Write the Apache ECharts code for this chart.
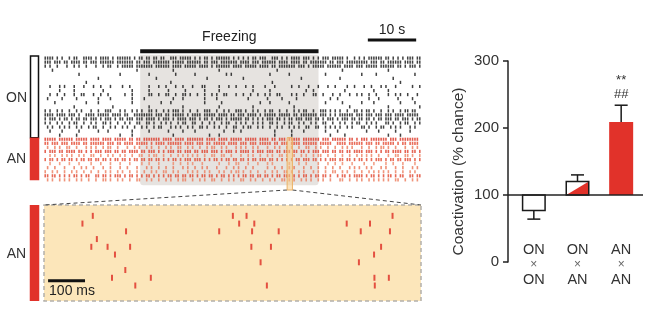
<!DOCTYPE html>
<html>
<head>
<meta charset="utf-8">
<script src="https://cdn.jsdelivr.net/npm/echarts@6/dist/echarts.min.js"></script>
<style>
  html, body { margin: 0; padding: 0; background: #fff; }
  #c { width: 654px; height: 333px; }
</style>
</head>
<body>
<div id="c"></div>
<script>
// ---- Raster (top): one string per unit, each character is a 0.5 s bin, '|' = spike ----
const BIN_S = 0.5;
const onRows = [
  "||||.|.|.. |.||..|||| .|.||||.|. ||||||.|.| |.||.||.|| ..|||.|||| |.|.|.||.| .||||||.|. |.|.|.||.| ||..|||.|. |.||||.||| .|.|.|||.| ||||.|..|. |.|.|||||| .||.|.|.|. |||.||.|.|",
  "|||.|||.|| .||||.||.| ||.||||||. |||||||.|| .|||.||||| ||.|||||.| |||||.||.| ||.||||||| .||||.|||. ||||||.||| |.||||.||. |||||||.|| .|||.||||| ||||.|||.| |.||||||.| |||.||||||",
  "|.|..|...| ..|.|..|.. .|..|.||.. |.|||||.|| |||||.|||| ||.||||.|| |||.||||.| .||||||.|| ||.|||||.| |||.||.||| ||||.|||.| .|||||.||| |||.||||.| ||.|||||.| |||||.||.| .|||.||||.",
  "...|...... .......... .......... ........|. .......... ...|...... .......... ..|....... .......... ......|... .......... .......... ...|...... .......... ..|....... ..........",
  ".......... ....|..... .......... .|........ ...|...... ....|..... ..|....... .....|.|.. .......... ...|...... .|........ ......|... .......... .|.....|.. .......... ...|......",
  ".......... .......... ..|....... .......... ......|... .......... .......|.. .......... ..|....... .......... ......|... .......... ..|....... .......... ....|..... ..........",
  ".......... .......|.. .......... .......... .......... ..|....... .......... .......... .......... ....|..... .......... .......... .......... .......... .......|.. ..........",
  "..|...|.|. ..|...|... |..|...|.. ..|..|.... ...|...|.. |...|..|.. .|...||... ..|...|..| ...|..|... .|...|.... ..|..|...| ...|...|.. |....|..|. ..|..|...| .|...|.... ..|..|..|.",
  "......|... ..|....... ....|..... ......|... ...|...... .|......|. ......|... ..|....... ......|... ...|...... ........|. .|........ ....|..... ......|... ..|....... ........|.",
  "..|..|..|. ..|..||... |..|..|... ...|..|... ...||..|.. ||..|..||. |..|..|..| .|..||...| ..|..|..|. .|.|..||.. ..|.|..|.. .||..|...| ..|...|..| .|..|..|.. ..|..|.|.. |...|..|..",
  ".|.....|.. ...|...... ..|....|.. ......|... .|........ ...|...|.. ......|... .|........ ....|..... ..|.....|. ....|..... ........|. .|........ ....|...|. ......|... ..|.......",
  "....|..... .......|.. ..|....... ......|... ........|. ..|....... ......|... ...|...... .........| ...|...... .|........ ......|... ...|...... .|....|... .......|.. ...|......",
  ".......... ..|....... ........|. .......... ...|...... .......|.. .......... ..|....... ......|... .......... ...|...... .......... ......|... .......... ..|....... .....|....",
  "|.|..|.|.. |..|.|...| ..|..|||.. .|.|..|.|. |..||.|..| .|.|||.|.. |..|..|||. .|..|.|..| ||.|..|.|. .|.||..|.. |..|.|.||. .|..|||.|. |.|..|..|| .|.||.|..| ..|.|..|.| |.||..|.|.",
  "||||.||||. |||.|..||| |.|||||.|| ||.||..||| |||||.|||. ||.|||||.| .||||.|||| |.||||.||. |||.||||.| .|||||.||| ||.||.|||| |||.|||.|. |.||||||.| ||.|||.||| .|||.||||. |||||.||.|",
  "|.|||.|.|| .|.||.||.| ||.|.|||.| .||.|||.|| |.||||.|.| ||.|.||||. |||.|.||.| .|||.|.||| ||.||.|.|. |.|||.||.| .||.|||.|| |.||.|.||| .|.|||.||. ||.||.|.|| .|||.||.|| |.|.|||.||",
  "|.|..|.|.. |.||..|..| .|..||.|.. |..|.|..|| ..||.|..|. |.|..|.||. .||..|..|. |..|.||..| .|.|..|.|. |..||.|..| .||..|.|.. |.|..||..| ..|.|..|.| |..|.|.|.. .||.|..|.| |..|.||..|",
  ".|.|..|.|. |..|.|..|. ||..|..|.| ..|.|..|.. |.|..|.||. ..|.|.|..| .|..||.|.. |.|..|..|| ..|.||..|. |..|..|.|. .|.|.|..|| ..||..|.|. |.|..|.|.. .||.|..|.| |..|.|.|.. .|.|..||.|",
  "..|....|.. ....|..... ..|...|... ......|... ...|...... .|.....|.. ..|....... ....|...|. .|........ .....|.... ..|....|.. ......|... .|........ ...|....|. .....|.... .|........",
  "......|... ...|...... .......... .|....|... .......... ...|...... ........|. ..|....... .......... .....|.... ..|....... ........|. ....|..... .......... ..|....|.. .........."
];
const anRows = [
  "|||||.|||| ||.|||||.| |||.||||.| ||||.||.|| .|||||||.| |||.||||.| ||||||.||| |.||||.||| ||.|||||.| |||.||.||| .|||||.||| ||||.|||.| |||||.||.| .|||.||||| ||.|||.||| |||||.|.||",
  "||.|||.||| .||||.||.| |||||.|||. ||.||||.|| |||.|.|||| .||||||.|| ||.|||.||. |||||.|||| .|||.|||.| ||||.||.|| |.||||.||| |||.|||||. .||||.|||| ||.|||.||. |||||.|.|| .||||.||||",
  ".|..|.|..| |..|...|.| .|..|.||.. |...|..|.| ..|.|..|.. |.|..||..| .|..|..|.| |..|.|...| .|.|..|.|. ..|..|.|.. |.|..|..|| ..|.|..|.. |..|.|.|.. .|..|..|.| |.|..|...| ..|.|..|.|",
  "|.|||.||.| |||.||.|.| .|||.|||.| |.||.||||. ||.|||.|.| .|||.||.|| |.||.|||.| ||.|.|||.| .||||.|.|| |.|||.||.| ||.||.||.| .|||.|||.| |.||.||.|| ||.|||.|.| .||.||||.| |.||.|||.|",
  "..|.|..|.| .|..|.|..| |..|..|.|. .|.|..|..| |..|.||..| ..|..|.|.| .|.|..|..| |..||..|.. .|..|.|..| ..|.|..||. |..|..|.|. .|.||..|.. |..|..|..| .|.|.|..|. ..|..||..| |.|..|.|..",
  "|.||.|.||. ||.|.||.|| .||.||.|.| |.||.|.||. ||.||.||.| .|.||.|.|| |.|||.|.|. ||.|.||.|| .||.|.||.| ||.||.|.|. |.|.||.||| .||.|.|.|| |.||.||.|. ||.|.|.||| .|.||.||.| ||.|.||.||",
  "..|...|... |...|....| ...|...|.. .|...|.... |..|...|.. ...|..|..| .|...|.... ..|...|..| |...|...|. ..|.|..... .|...|..|. ...|...|.. |..|...|.. ..|...|... .|..|...|. ...|..|...",
  ".|..|...|. ..|..|.|.. |...|..|.. .|..|...|. ..|.|..|.. |..|...|.| ..|..|.|.. .|...|..|. |..|..|... ..|..|..|. .|.|...|.. |..|..|..| ..|...|.|. |..|.|...| .|...|..|. ..|.|...|.",
  "|..|.|..|. .|.|..|..| ..|..|.|.. |.|..|..|. .|..|.|..| |..|.|...| .|.|..|.|. ..|.|..|.| |.|..|..|. .|..|.|..| |.|..|.|.. .|.|..|..| |..|.|..|. .|..|.|.|. |.|..|..|. .|.|..|..|",
  "||.||.|.|. |.||.|.||. .||.||.|.| ||.|.||.|. |.||.|.|.| .||.||.||. ||.|.||.|| .|.||.|.|. |.||.||.|| .||.|.||.| ||.|.|.||. |.||.||.|. .|.||.|.|| ||.|.||.|. |.||.|.||. .||.||.|.|",
  ".|.|..|.|. |..|.|..|. .|..||.|.. |.|..|..|| ..|.|..|.. |.|..|.||. .|..|.|..| |..|..|.|. .||..|.|.. |..|.|..|| .|.|..|.|. |..|.|..|. ..||..|..| .|..|.|.|. |.|..||..| ..|.|..|.."
];
const freezingSpan = [19.9, 56.8];     // s
const expandedSpan = [50.3, 51.4];     // s, window shown below
const timeScaleBar = [67, 77];         // s
const timeScaleText = "10 s";
const freezingText = "Freezing";

// ---- Expanded 1 s window: [time in ms, unit index] ----
const windowSpikes = [
  [132, 1], [511, 1], [548, 1], [943, 1],
  [104, 2], [528, 2], [569, 2], [819, 2], [882, 2],
  [222, 3], [474, 3], [563, 3], [635, 3], [857, 3], [936, 3],
  [143, 4],
  [128, 5], [172, 5], [233, 5], [561, 5], [614, 5], [912, 5],
  [192, 6], [893, 6],
  [586, 7], [852, 7],
  [220, 8],
  [184, 9], [289, 9], [894, 9], [933, 9],
  [247, 10], [603, 10], [895, 10]
];
const windowScaleBar = [11, 111];      // ms
const windowScaleText = "100 ms";

// ---- Coactivation bars ----
const categories = ["ON×ON", "ON×AN", "AN×AN"];
const catTop = ["ON", "ON", "AN"];
const catBottom = ["ON", "AN", "AN"];
const coactMean = [77, 120, 209];
const coactErr = [13, 10, 25];
const yTicks = [0, 100, 200, 300];
const sigLines = ["**", "##"];
const yTitle = "Coactivation (% chance)";

const FONT = "Liberation Sans, Arial, Helvetica, sans-serif";
const RED = "#e1322a";
const anColors = ["#dc3424", "#e4472f", "#ec7656", "#df3e2a", "#ee8262", "#e2492f",
                  "#ef8a6a", "#eb7252", "#ed7d5c", "#e0442c", "#ec7858"];

const toPoints = (rows, offset) => {
  const pts = [];
  rows.forEach((s, r) => {
    s.replace(/ /g, "").split("").forEach((ch, i) => {
      if (ch === "|") pts.push([i * BIN_S + BIN_S / 2, r + offset]);
    });
  });
  return pts;
};
const onPts = toPoints(onRows, 0);
const anPts = toPoints(anRows, onRows.length);

const chart = echarts.init(document.getElementById("c"), null, { renderer: "canvas" });

const option = {
  animation: false,
  textStyle: { fontFamily: FONT },
  grid: [
    { left: 44, top: 54, width: 377, height: 136 },
    { left: 44, top: 205, width: 377, height: 96 },
    { left: 512, top: 61, width: 131, height: 201 }
  ],
  xAxis: [
    { gridIndex: 0, type: "value", min: 0, max: 78, show: false },
    { gridIndex: 1, type: "value", min: 0, max: 1020, show: false },
    {
      gridIndex: 2, type: "category", data: categories,
      axisLine: { show: false }, axisTick: { show: false },
      axisLabel: {
        margin: -20, interval: 0,
        formatter: (v, i) => "{a|" + catTop[i] + "}\n{b|×}\n{a|" + catBottom[i] + "}",
        rich: {
          a: { fontSize: 14.5, color: "#333", lineHeight: 15, fontFamily: FONT },
          b: { fontSize: 12, color: "#666", lineHeight: 15, fontFamily: FONT }
        }
      }
    }
  ],
  yAxis: [
    { gridIndex: 0, type: "value", min: -1, max: 32.5, inverse: true, show: false },
    { gridIndex: 1, type: "value", min: -0.4, max: 12, inverse: true, show: false },
    {
      gridIndex: 2, type: "value", min: yTicks[0], max: yTicks[yTicks.length - 1],
      interval: yTicks[1] - yTicks[0], offset: 4,
      axisLine: { show: true, lineStyle: { color: "#222", width: 1.5 } },
      axisTick: { show: true, length: 5, lineStyle: { color: "#222", width: 1.5 } },
      splitLine: { show: false },
      axisLabel: { fontSize: 15, color: "#333", margin: 9, fontFamily: FONT },
      name: yTitle, nameLocation: "middle", nameGap: 41,
      nameTextStyle: { fontSize: 15.5, color: "#333", fontFamily: FONT, padding: [0, 20, 0, 0] }
    }
  ],
  series: [
    // freezing epoch shading
    {
      type: "custom", xAxisIndex: 0, yAxisIndex: 0, z: 1, silent: true,
      data: [freezingSpan],
      renderItem: (p, api) => {
        const a = api.coord([api.value(0), -0.8]);
        const b = api.coord([api.value(1), 31.3]);
        return { type: "rect", shape: { x: a[0], y: a[1], width: b[0] - a[0], height: b[1] - a[1], r: [0, 0, 3, 3] },
                 style: { fill: "#e6e3e0" } };
      }
    },
    {
      type: "scatter", xAxisIndex: 0, yAxisIndex: 0, z: 2, silent: true,
      symbol: "rect", symbolSize: [1.5, 3.2], data: onPts,
      itemStyle: { color: "#111" }
    },
    {
      type: "scatter", xAxisIndex: 0, yAxisIndex: 0, z: 2, silent: true,
      symbol: "rect", symbolSize: [1.6, 3.2], data: anPts,
      itemStyle: { color: (p) => anColors[p.data[1] - onRows.length] }
    },
    // freezing bar + label, time scale bar + label
    {
      type: "custom", xAxisIndex: 0, yAxisIndex: 0, z: 3, silent: true,
      data: [[freezingSpan[0], freezingSpan[1], 0], [timeScaleBar[0], timeScaleBar[1], 1]],
      renderItem: (p, api) => {
        const a = api.coord([api.value(0), -1]);
        const b = api.coord([api.value(1), -1]);
        const isScale = api.value(2) === 1;
        const top = isScale ? 38.5 : 49.3;
        const h = isScale ? 3 : 4;
        const txt = isScale ? timeScaleText : freezingText;
        return {
          type: "group", children: [
            { type: "rect", shape: { x: a[0], y: top, width: b[0] - a[0], height: h }, style: { fill: "#111" } },
            { type: "text", x: (a[0] + b[0]) / 2, y: isScale ? 30 : 37,
              style: { text: txt, fill: "#222", font: "14px " + FONT, align: "center", verticalAlign: "middle" } }
          ]
        };
      }
    },
    // expanded-window marker
    {
      type: "custom", xAxisIndex: 0, yAxisIndex: 0, z: 10, silent: true,
      data: [expandedSpan],
      renderItem: (p, api) => {
        const a = api.coord([api.value(0), 19.6]);
        const b = api.coord([api.value(1), 32.5]);
        return { type: "rect", shape: { x: a[0], y: a[1], width: b[0] - a[0], height: b[1] - a[1] },
                 style: { fill: "rgba(248,208,140,0.55)", stroke: "#ecb266", lineWidth: 1 } };
      }
    },
    // expanded panel background
    {
      type: "custom", xAxisIndex: 1, yAxisIndex: 1, z: 1, silent: true,
      data: [[0, 1020]],
      renderItem: (p, api) => {
        const a = api.coord([api.value(0), -0.4]);
        const b = api.coord([api.value(1), 12]);
        return { type: "rect", shape: { x: a[0], y: a[1], width: b[0] - a[0], height: b[1] - a[1] },
                 style: { fill: "#fce6ba", stroke: "#b3b0ab", lineWidth: 1.5, lineDash: [4, 3] } };
      }
    },
    {
      type: "scatter", xAxisIndex: 1, yAxisIndex: 1, z: 3, silent: true,
      symbol: "rect", symbolSize: [2, 6], data: windowSpikes,
      itemStyle: { color: "#dd2b22" }
    },
    {
      type: "custom", xAxisIndex: 1, yAxisIndex: 1, z: 4, silent: true,
      data: [windowScaleBar],
      renderItem: (p, api) => {
        const a = api.coord([api.value(0), 9.4]);
        const b = api.coord([api.value(1), 9.4]);
        return {
          type: "group", children: [
            { type: "rect", shape: { x: a[0], y: a[1] - 1.5, width: b[0] - a[0], height: 3 }, style: { fill: "#111" } },
            { type: "text", x: a[0] + 1, y: a[1] + 10,
              style: { text: windowScaleText, fill: "#222", font: "14px " + FONT, align: "left", verticalAlign: "middle" } }
          ]
        };
      }
    },
    // coactivation bars with error bars
    {
      type: "custom", xAxisIndex: 2, yAxisIndex: 2, z: 3, silent: true,
      data: categories.map((c, i) => [i, coactMean[i], coactErr[i]]),
      renderItem: (p, api) => {
        const i = api.value(0), m = api.value(1), e = api.value(2);
        const base = api.coord([i, 100]);
        const top = api.coord([i, m]);
        const up = m >= 100;
        const tip = api.coord([i, up ? m + e : m - e]);
        const w = i === 2 ? 24 : 22.5;
        const x0 = base[0] - w / 2, x1 = base[0] + w / 2;
        const yT = Math.min(base[1], top[1]), yB = Math.max(base[1], top[1]);
        const ch = [];
        const ink = { stroke: "#1a1a1a", lineWidth: 1.5 };
        ch.push({ type: "line", shape: { x1: base[0], y1: top[1], x2: base[0], y2: tip[1] }, style: ink });
        ch.push({ type: "line", shape: { x1: base[0] - 6.5, y1: tip[1], x2: base[0] + 6.5, y2: tip[1] }, style: ink });
        if (i === 0) {
          ch.push({ type: "rect", shape: { x: x0, y: yT, width: w, height: yB - yT }, style: { fill: "#fff", stroke: "#1a1a1a", lineWidth: 1.5 } });
        } else if (i === 1) {
          ch.push({ type: "rect", shape: { x: x0, y: yT, width: w, height: yB - yT }, style: { fill: "#fff" } });
          ch.push({ type: "polygon", shape: { points: [[x0, yB], [x1, yT], [x1, yB]] }, style: { fill: RED } });
          ch.push({ type: "rect", shape: { x: x0, y: yT, width: w, height: yB - yT }, style: { fill: "none", stroke: "#1a1a1a", lineWidth: 1.5 } });
        } else {
          ch.push({ type: "rect", shape: { x: x0, y: yT, width: w, height: yB - yT }, style: { fill: RED } });
          sigLines.slice().reverse().forEach((t, k) => {
            ch.push({ type: "text", x: base[0], y: tip[1] - 11 - k * 14,
              style: { text: t, fill: "#333", font: "13px " + FONT, align: "center", verticalAlign: "middle" } });
          });
        }
        return { type: "group", children: ch };
      }
    }
  ]
};
chart.setOption(option);

// Side labels, unit-group bars, connector lines, bar-chart baseline
const px0 = (pt) => chart.convertToPixel({ gridIndex: 0 }, pt);
const px1 = (pt) => chart.convertToPixel({ gridIndex: 1 }, pt);
const onTop = px0([0, -0.5])[1];
const split = px0([0, onRows.length - 0.4])[1];
const anBot = px0([0, onRows.length + anRows.length - 1 + 0.1])[1];
const wTop = px1([0, -0.4])[1], wBot = px1([0, 12])[1];
const colL = px0([expandedSpan[0], 32.5]), colR = px0([expandedSpan[1], 32.5]);
const winL = px1([0, -0.4]), winR = px1([1020, -0.4]);
const baseY = chart.convertToPixel({ yAxisIndex: 2 }, 100);
const axisX = 508, gridRight = 643;
const lbl = (t, y) => ({ type: "text", x: 16.5, y: y,
  style: { text: t, fill: "#333", font: "14px " + FONT, align: "center", verticalAlign: "middle" } });

chart.setOption({
  graphic: [
    { type: "rect", z: 5, shape: { x: 30.5, y: onTop, width: 8, height: split - onTop }, style: { fill: "#fff", stroke: "#111", lineWidth: 1.5 } },
    { type: "rect", z: 5, shape: { x: 29.75, y: split, width: 9.5, height: anBot - split }, style: { fill: RED } },
    { type: "rect", z: 5, shape: { x: 29.75, y: wTop, width: 9.5, height: wBot - wTop }, style: { fill: RED } },
    lbl("ON", (onTop + split) / 2 + 1),
    lbl("AN", (split + anBot) / 2),
    lbl("AN", (wTop + wBot) / 2 + 1),
    { type: "line", z: 5, shape: { x1: colL[0], y1: colL[1], x2: winL[0], y2: winL[1] }, style: { stroke: "#444", lineWidth: 1, lineDash: [4, 3] } },
    { type: "line", z: 5, shape: { x1: colR[0], y1: colR[1], x2: winR[0], y2: winR[1] }, style: { stroke: "#444", lineWidth: 1, lineDash: [4, 3] } },
    { type: "line", z: 50, shape: { x1: axisX, y1: baseY, x2: gridRight, y2: baseY }, style: { stroke: "#222", lineWidth: 1.5 } }
  ]
});
</script>
</body>
</html>
